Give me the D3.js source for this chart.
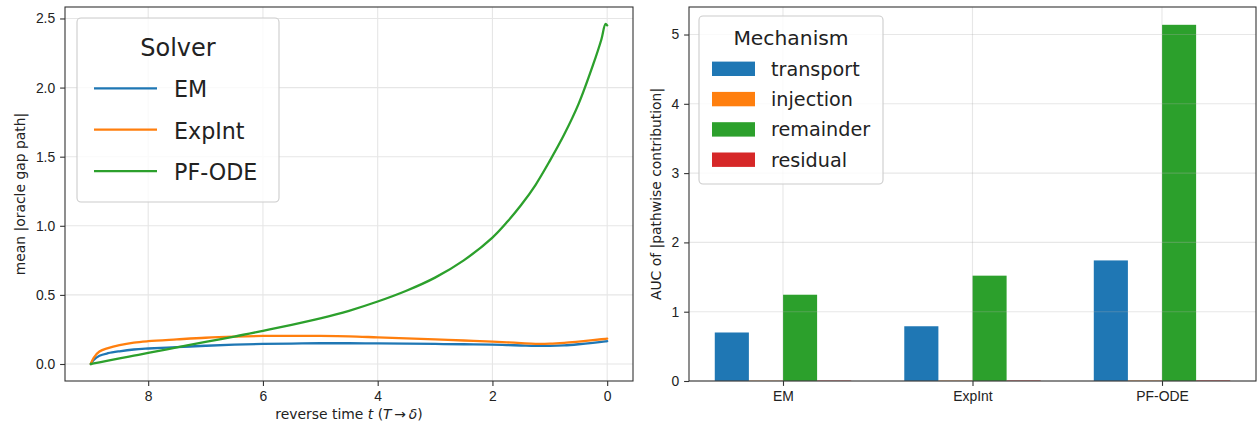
<!DOCTYPE html>
<html>
<head>
<meta charset="utf-8">
<script src="https://cdn.jsdelivr.net/npm/d3@7"></script>
<style>
  body { margin: 0; background: #fff; }
  svg { font-family: "DejaVu Sans", sans-serif; }
  .tick text { fill: #222; font-size: 13.9px; }
  .tick line { stroke: #333; stroke-width: 1.1; }
  .domain { display: none; }
</style>
</head>
<body>
<svg id="chart" width="1257" height="426"></svg>
<script>
// reverse time grid (T -> delta)
const tGrid = [9, 8.95, 8.85, 8.7, 8.5, 8.25, 8, 7.5, 7, 6.5, 6, 5.5, 5, 4.5, 4, 3.5, 3, 2.5, 2, 1.75, 1.5, 1.25, 1, 0.75, 0.5, 0.25, 0.1, 0.03, 0];
const emGap = [0, 0.03, 0.06, 0.078, 0.092, 0.105, 0.112, 0.122, 0.132, 0.14, 0.145, 0.148, 0.15, 0.15, 0.149, 0.147, 0.145, 0.143, 0.14, 0.137, 0.134, 0.131, 0.131, 0.135, 0.143, 0.153, 0.16, 0.163, 0.165];
const expIntGap = [0, 0.045, 0.09, 0.115, 0.137, 0.155, 0.165, 0.178, 0.19, 0.198, 0.203, 0.204, 0.203, 0.2, 0.193, 0.186, 0.178, 0.17, 0.162, 0.157, 0.151, 0.146, 0.147, 0.153, 0.162, 0.172, 0.179, 0.182, 0.183];
const pfOdeGap = [0, 0.004, 0.012, 0.024, 0.04, 0.06, 0.08, 0.12, 0.16, 0.198, 0.24, 0.283, 0.33, 0.385, 0.452, 0.53, 0.625, 0.75, 0.915, 1.025, 1.15, 1.295, 1.47, 1.66, 1.88, 2.16, 2.35, 2.46, 2.45];
const solvers = ["EM", "ExpInt", "PF-ODE"];
const solverColors = ["#1f77b4", "#ff7f0e", "#2ca02c"];
const leftXTicks = [8, 6, 4, 2, 0];
const leftYTicks = [0, 0.5, 1, 1.5, 2, 2.5];

// right panel: AUC of |pathwise contribution|
const mechanisms = ["transport", "injection", "remainder", "residual"];
const mechColors = ["#1f77b4", "#ff7f0e", "#2ca02c", "#d62728"];
const transportAuc = [0.70, 0.79, 1.74];
const injectionAuc = [0.004, 0.005, 0.006];
const remainderAuc = [1.245, 1.52, 5.14];
const residualAuc = [0.006, 0.007, 0.008];
const rightYTicks = [0, 1, 2, 3, 4, 5];

const svg = d3.select("#chart");
const gridColor = "#e6e6e6";
const spineColor = "#333";

// ---------- left panel ----------
const L = { x0: 65, x1: 633, y0: 7, y1: 381 };
const series = [emGap, expIntGap, pfOdeGap];
const yMaxL = d3.max(pfOdeGap);
const padY = 0.05 * yMaxL;
const xL = d3.scaleLinear().domain([9 + 0.45, 0 - 0.45]).range([L.x0, L.x1]);
const yL = d3.scaleLinear().domain([0 - padY, yMaxL + padY]).range([L.y1, L.y0]);

const gl = svg.append("g");
gl.append("g").selectAll("line").data(leftXTicks).join("line")
    .attr("x1", d => xL(d)).attr("x2", d => xL(d))
    .attr("y1", L.y0).attr("y2", L.y1)
    .attr("stroke", gridColor).attr("stroke-width", 1.1);
gl.append("g").selectAll("line").data(leftYTicks).join("line")
    .attr("x1", L.x0).attr("x2", L.x1)
    .attr("y1", d => yL(d)).attr("y2", d => yL(d))
    .attr("stroke", gridColor).attr("stroke-width", 1.1);

const line = d3.line()
    .x(d => xL(d[0]))
    .y(d => yL(d[1]))
    .curve(d3.curveCatmullRom.alpha(0.5));
series.forEach((vals, i) => {
    gl.append("path")
        .datum(tGrid.map((t, k) => [t, vals[k]]))
        .attr("d", line)
        .attr("fill", "none")
        .attr("stroke", solverColors[i])
        .attr("stroke-width", 2.3)
        .attr("stroke-linejoin", "round")
        .attr("stroke-linecap", "round");
});

gl.append("g").attr("transform", `translate(0,${L.y1})`)
    .call(d3.axisBottom(xL).tickValues(leftXTicks).tickFormat(d3.format("d"))
        .tickSize(4.9).tickPadding(4.9).tickSizeOuter(0));
gl.append("g").attr("transform", `translate(${L.x0},0)`)
    .call(d3.axisLeft(yL).tickValues(leftYTicks).tickFormat(d3.format(".1f"))
        .tickSize(4.9).tickPadding(4.9).tickSizeOuter(0));

gl.append("rect")
    .attr("x", L.x0).attr("y", L.y0)
    .attr("width", L.x1 - L.x0).attr("height", L.y1 - L.y0)
    .attr("fill", "none").attr("stroke", spineColor).attr("stroke-width", 1.1);

const xlab = gl.append("text")
    .attr("x", (L.x0 + L.x1) / 2).attr("y", 418.5)
    .attr("text-anchor", "middle").attr("font-size", 13.9).attr("fill", "#222");
xlab.append("tspan").text("reverse time ");
xlab.append("tspan").attr("font-style", "italic").text("t");
xlab.append("tspan").text(" (");
xlab.append("tspan").attr("font-style", "italic").text("T");
xlab.append("tspan").text("\u2009\u2192\u2009");
xlab.append("tspan").attr("font-style", "italic").text("\u03b4");
xlab.append("tspan").text(")");

gl.append("text")
    .attr("transform", `translate(25,${(L.y0 + L.y1) / 2}) rotate(-90)`)
    .attr("text-anchor", "middle").attr("font-size", 13.9).attr("fill", "#222")
    .text("mean |oracle gap path|");

// legend (Solver)
const lg = gl.append("g");
lg.append("rect")
    .attr("x", 77).attr("y", 18).attr("width", 202).attr("height", 184)
    .attr("rx", 4).attr("fill", "rgba(255,255,255,0.8)")
    .attr("stroke", "#cccccc").attr("stroke-width", 1.1);
lg.append("text")
    .attr("x", 178).attr("y", 55.5).attr("text-anchor", "middle")
    .attr("font-size", 24).attr("fill", "#222").text("Solver");
solvers.forEach((s, i) => {
    const y = 88.3 + i * 41.4;
    lg.append("line")
        .attr("x1", 94).attr("x2", 157).attr("y1", y).attr("y2", y)
        .attr("stroke", solverColors[i]).attr("stroke-width", 2.3);
    lg.append("text")
        .attr("x", 174).attr("y", y + 8.9)
        .attr("font-size", 22.2).attr("fill", "#222").text(s);
});

// ---------- right panel ----------
const R = { x0: 689, x1: 1256, y0: 7, y1: 381 };
const barW = 0.18;
const aucSeries = [transportAuc, injectionAuc, remainderAuc, residualAuc];
const xMin = -2 * barW, xMax = solvers.length - 1 + 2 * barW;
const padX = 0.05 * (xMax - xMin);
const xR = d3.scaleLinear().domain([xMin - padX, xMax + padX]).range([R.x0, R.x1]);
const yMaxR = d3.max(aucSeries.flat());
const yR = d3.scaleLinear().domain([0, yMaxR * 1.05]).range([R.y1, R.y0]);

const gr = svg.append("g");
aucSeries.forEach((vals, m) => {
    gr.append("g").selectAll("rect").data(vals).join("rect")
        .attr("x", (d, i) => xR(i + (m - 2) * barW))
        .attr("width", xR(barW) - xR(0))
        .attr("y", d => yR(d))
        .attr("height", d => yR(0) - yR(d))
        .attr("fill", mechColors[m]);
});

gr.append("g").selectAll("line").data(d3.range(solvers.length)).join("line")
    .attr("x1", d => xR(d)).attr("x2", d => xR(d))
    .attr("y1", R.y0).attr("y2", R.y1)
    .attr("stroke", "rgba(176,176,176,0.3)").attr("stroke-width", 1.1);
gr.append("g").selectAll("line").data(rightYTicks).join("line")
    .attr("x1", R.x0).attr("x2", R.x1)
    .attr("y1", d => yR(d)).attr("y2", d => yR(d))
    .attr("stroke", "rgba(176,176,176,0.3)").attr("stroke-width", 1.1);

gr.append("g").attr("transform", `translate(0,${R.y1})`)
    .call(d3.axisBottom(xR).tickValues(d3.range(solvers.length))
        .tickFormat(i => solvers[i])
        .tickSize(4.9).tickPadding(4.9).tickSizeOuter(0));
gr.append("g").attr("transform", `translate(${R.x0},0)`)
    .call(d3.axisLeft(yR).tickValues(rightYTicks).tickFormat(d3.format("d"))
        .tickSize(4.9).tickPadding(4.9).tickSizeOuter(0));

gr.append("rect")
    .attr("x", R.x0).attr("y", R.y0)
    .attr("width", R.x1 - R.x0).attr("height", R.y1 - R.y0)
    .attr("fill", "none").attr("stroke", spineColor).attr("stroke-width", 1.1);

gr.append("text")
    .attr("transform", `translate(660.5,${(R.y0 + R.y1) / 2}) rotate(-90)`)
    .attr("text-anchor", "middle").attr("font-size", 13.9).attr("fill", "#222")
    .text("AUC of |pathwise contribution|");

// legend (Mechanism)
const rg = gr.append("g");
rg.append("rect")
    .attr("x", 699).attr("y", 16).attr("width", 184).attr("height", 168)
    .attr("rx", 4).attr("fill", "rgba(255,255,255,0.8)")
    .attr("stroke", "#cccccc").attr("stroke-width", 1.1);
rg.append("text")
    .attr("x", 791).attr("y", 45).attr("text-anchor", "middle")
    .attr("font-size", 20.3).attr("fill", "#222").text("Mechanism");
mechanisms.forEach((m, i) => {
    const y = 68.8 + i * 30.3;
    rg.append("rect")
        .attr("x", 712).attr("y", y - 7.2).attr("width", 43).attr("height", 14.4)
        .attr("fill", mechColors[i]);
    rg.append("text")
        .attr("x", 771).attr("y", y + 6.9)
        .attr("font-size", 19.2).attr("fill", "#222").text(m);
});
</script>
</body>
</html>
